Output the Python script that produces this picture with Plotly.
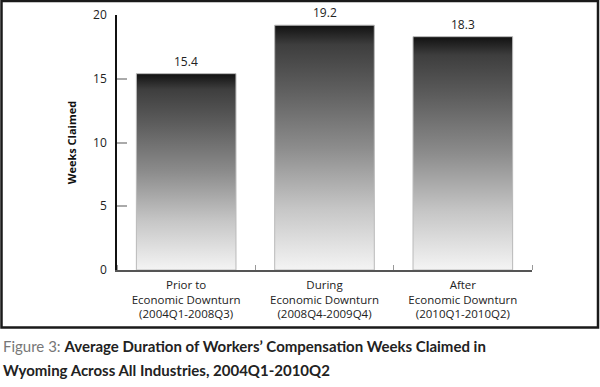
import plotly.graph_objects as go

categories = ["Prior to<br>Economic Downturn<br>(2004Q1-2008Q3)",
              "During<br>Economic Downturn<br>(2008Q4-2009Q4)",
              "After<br>Economic Downturn<br>(2010Q1-2010Q2)"]
weeks = [15.4, 19.2, 18.3]
value_labels = ["15.4", "19.2", "18.3"]
y_ticks = [0, 5, 10, 15, 20]

FONT = "Open Sans"
CAP_FONT = "Lato"
bar_w = 0.72
L, R, T, B = 117, 68, 15, 117
W, H = 600, 387
pw, ph = W - L - R, H - T - B

grad = [[0.0, "#f4f4f4"], [0.25, "#c6c6c6"], [0.5, "#8c8c8c"],
        [0.75, "#5c5c5c"], [0.92, "#3e3e3e"], [1.0, "#111111"]]

fig = go.Figure()
for i, v in enumerate(weeks):
    x0, x1 = i - bar_w / 2, i + bar_w / 2
    fig.add_trace(go.Scatter(
        x=[x0, x1, x1, x0, x0], y=[0, 0, v, v, 0],
        fill="toself", mode="lines",
        line=dict(color="#b9b9b9", width=1),
        fillgradient=dict(type="vertical", colorscale=grad, start=0, stop=v),
        hoverinfo="skip", showlegend=False))

for i, (v, lab) in enumerate(zip(weeks, value_labels)):
    fig.add_annotation(x=i, y=v, text=lab, showarrow=False,
                       yanchor="bottom", yshift=2,
                       font=dict(family=FONT, size=12, color="#222"))

def px_x(p):
    return (p - L) / pw

def px_y(p):
    return (H - B - p) / ph

fig.add_shape(type="rect", xref="paper", yref="paper",
              x0=px_x(1.5), x1=px_x(598), y0=px_y(327.5), y1=px_y(1),
              line=dict(color="#1a1a1a", width=2.5), layer="above")

fig.add_annotation(xref="paper", yref="paper", x=px_x(1), y=px_y(346),
                   xanchor="left", yanchor="middle", showarrow=False,
                   text="<span style='color:#777'>Figure 3:</span> "
                        "<b>Average Duration of Workers’ Compensation Weeks Claimed in</b>",
                   font=dict(family=CAP_FONT, size=15, color="#222"))
fig.add_annotation(xref="paper", yref="paper", x=px_x(1), y=px_y(370),
                   xanchor="left", yanchor="middle", showarrow=False,
                   text="<b>Wyoming Across All Industries, 2004Q1-2010Q2</b>",
                   font=dict(family=CAP_FONT, size=15, color="#222"))

fig.update_layout(
    width=W, height=H, margin=dict(l=L, r=R, t=T, b=B),
    paper_bgcolor="white", plot_bgcolor="white",
    font=dict(family=FONT, size=12, color="#222"),
    xaxis=dict(range=[-0.5, 2.5], tickvals=[0, 1, 2], ticktext=categories,
               ticks="", showgrid=False, zeroline=False, automargin=False,
               showline=True, linecolor="#555", linewidth=1.5,
               ticklabelstandoff=3,
               tickfont=dict(family=FONT, size=11.5, color="#222"),
               minor=dict(ticks="inside", tick0=0.5, dtick=1, ticklen=5,
                          tickcolor="#999", tickwidth=1, showgrid=False),
               fixedrange=True),
    yaxis=dict(range=[0, 20], tickvals=y_ticks, ticks="inside", ticklen=10,
               tickcolor="#aaa", tickwidth=1.5, showgrid=False, zeroline=False,
               showline=True, linecolor="#111", linewidth=1.5, automargin=False,
               ticklabelstandoff=6,
               tickfont=dict(family=FONT, size=12, color="#222"),
               title=dict(text="<b>Weeks Claimed</b>", standoff=14,
                          font=dict(family=FONT, size=11, color="#111")),
               fixedrange=True),
)

fig.write_html("out.html", config={"displayModeBar": False},
               post_script="document.body.style.margin='0';"
                           "document.body.style.overflow='hidden';")
